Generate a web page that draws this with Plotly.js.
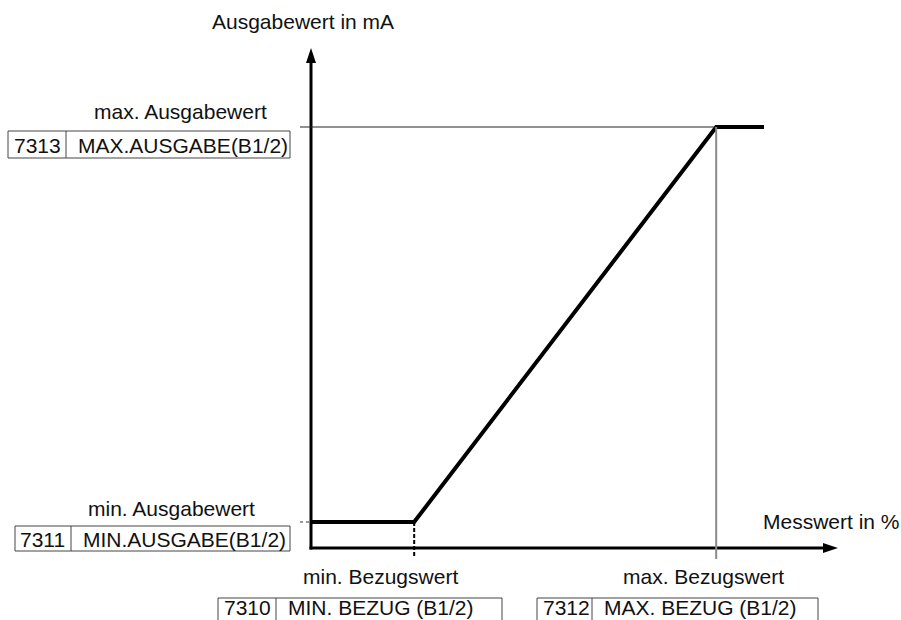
<!DOCTYPE html>
<html>
<head>
<meta charset="utf-8">
<script src="https://cdn.plot.ly/plotly-3.0.1.min.js"></script>
<style>html,body{margin:0;padding:0;background:#fff}#chart{width:901px;height:620px}</style>
</head>
<body>
<div id="chart"></div>
<script>
// ---- data (Messwert in %, Ausgabewert in mA) ----
const curveX = [0, 20.5, 80.5, 90];
const curveY = [4, 4, 20, 20];
const minRef = 20.5;          // min. Bezugswert
const maxRef = 80.5;          // max. Bezugswert
const minOut = 4;             // min. Ausgabewert
const maxOut = 20;            // max. Ausgabewert
const axisTitleY = "Ausgabewert in mA";
const axisTitleX = "Messwert in %";
const outLabels = ["max. Ausgabewert", "min. Ausgabewert"];
const refLabels = ["min. Bezugswert", "max. Bezugswert"];
const boxCodes = ["7313", "7311", "7310", "7312"];
const boxTexts = ["MAX.AUSGABE(B1/2)", "MIN.AUSGABE(B1/2)", "MIN. BEZUG (B1/2)", "MAX. BEZUG (B1/2)"];

// ---- geometry ----
const W = 901, H = 620;
const xs = 302 / 60;            // px per %
const x0px = 311;               // pixel of x = 0
const ys = 395 / 16;            // px per mA
const y4px = 522;               // pixel of y = 4 mA
const xr = [-x0px / xs, (W - x0px) / xs];
const yr = [4 - (H - y4px) / ys, 4 + y4px / ys];
const dx = p => (p - x0px) / xs;          // pixel -> data x
const dy = p => 4 + (y4px - p) / ys;      // pixel -> data y
const px = p => p / W;                    // pixel -> paper x
const py = p => 1 - p / H;                // pixel -> paper y

const xAxisY = dy(548), xAxisEnd = dx(838);
const yAxisTop = dy(48);

const font = {family: "Liberation Sans, Arial, sans-serif", size: 21, color: "#111"};

const shapes = [
  // axes
  {type: "line", xref: "x", yref: "y", x0: dx(309.5), x1: dx(826), y0: xAxisY, y1: xAxisY, line: {color: "#000", width: 3}},
  {type: "line", xref: "x", yref: "y", x0: 0, x1: 0, y0: dy(549.5), y1: dy(60), line: {color: "#000", width: 3}},
  {type: "path", xref: "x", yref: "y", xsizemode: "pixel", ysizemode: "pixel", xanchor: xAxisEnd, yanchor: xAxisY,
   path: "M0,0 L-15,5 L-15,-5 Z", fillcolor: "#000", line: {width: 0}},
  {type: "path", xref: "x", yref: "y", xsizemode: "pixel", ysizemode: "pixel", xanchor: 0, yanchor: yAxisTop,
   path: "M0,0 L-5,-15 L5,-15 Z", fillcolor: "#000", line: {width: 0}},
  // reference lines
  {type: "line", xref: "x", yref: "y", x0: dx(300), x1: maxRef, y0: maxOut, y1: maxOut, line: {color: "#222", width: 1}},
  {type: "line", xref: "x", yref: "y", x0: maxRef, x1: maxRef, y0: maxOut, y1: dy(559), line: {color: "#8a8a8a", width: 2}},
  {type: "line", xref: "x", yref: "y", x0: minRef, x1: minRef, y0: minOut, y1: dy(558), line: {color: "#000", width: 2, dash: "4px,2px"}},
  {type: "line", xref: "x", yref: "y", x0: dx(300), x1: 0, y0: minOut, y1: minOut, line: {color: "#333", width: 1, dash: "dot"}}
];

// parameter boxes: [left, divider, right, top, bottom]
const boxes = [
  [8, 66, 290, 131, 158],
  [15, 71, 290, 526, 551],
  [218, 276, 502, 598, 626],
  [537, 592, 818, 598, 626]
];
const boxTextPos = [[13, 77, 145], [19, 82, 539], [223, 287, 607], [542, 603, 607]];
const annotations = [];
boxes.forEach((b, i) => {
  shapes.push({type: "rect", xref: "paper", yref: "paper", x0: px(b[0]), x1: px(b[2]), y0: py(b[4]), y1: py(b[3]), line: {color: "#444", width: 1}});
  shapes.push({type: "line", xref: "paper", yref: "paper", x0: px(b[1]), x1: px(b[1]), y0: py(b[4]), y1: py(b[3]), line: {color: "#444", width: 1}});
  const t = boxTextPos[i];
  annotations.push({xref: "paper", yref: "paper", x: px(t[0]), y: py(t[2]), xanchor: "left", yanchor: "middle", showarrow: false, text: boxCodes[i], font: font, borderpad: 0});
  annotations.push({xref: "paper", yref: "paper", x: px(t[1]), y: py(t[2]), xanchor: "left", yanchor: "middle", showarrow: false, text: boxTexts[i], font: font, borderpad: 0});
});

const labelPos = [
  [axisTitleY, 211, 21, "left"],
  [outLabels[0], 93, 111, "left"],
  [outLabels[1], 87, 508, "left"],
  [refLabels[0], 302, 576, "left"],
  [refLabels[1], 622, 576, "left"],
  [axisTitleX, 901, 521, "right"]
];
labelPos.forEach(l => annotations.push({xref: "paper", yref: "paper", x: px(l[1]), y: py(l[2]), xanchor: l[3], yanchor: "middle", showarrow: false, text: l[0], font: font, borderpad: 0}));

const trace = {x: curveX, y: curveY, type: "scatter", mode: "lines", line: {color: "#000", width: 4}, hoverinfo: "skip", cliponaxis: false};

const layout = {
  width: W, height: H,
  margin: {l: 0, r: 0, t: 0, b: 0, pad: 0},
  paper_bgcolor: "#fff", plot_bgcolor: "#fff",
  showlegend: false,
  xaxis: {visible: false, range: xr, fixedrange: true},
  yaxis: {visible: false, range: yr, fixedrange: true},
  shapes: shapes,
  annotations: annotations,
  font: font
};
Plotly.newPlot("chart", [trace], layout, {displayModeBar: false, staticPlot: true});
</script>
</body>
</html>
